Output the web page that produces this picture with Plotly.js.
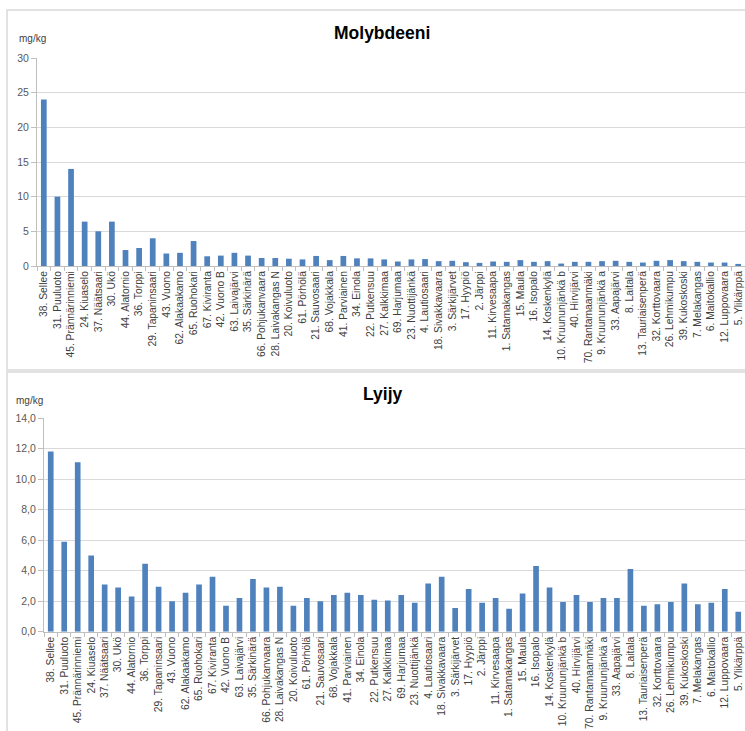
<!DOCTYPE html>
<html>
<head>
<meta charset="utf-8">
<script src="https://cdn.plot.ly/plotly-3.0.1.min.js"></script>
<style>
  html, body { margin: 0; padding: 0; background: #ffffff; }
  #chart { width: 745px; height: 731px; }
</style>
</head>
<body>
<div id="chart"></div>
<script>
// Sampling sites, in the order shown on both charts
const sites = [
  "38. Sellee", "31. Puuluoto", "45. Prännärinniemi", "24. Kiuaselo", "37. Näätsaari",
  "30. Ukö", "44. Alatornio", "36. Torppi", "29. Tapaninsaari", "43. Vuono",
  "62. Alakaakamo", "65. Ruohokari", "67. Kiviranta", "42. Vuono B", "63. Laivajärvi",
  "35. Särkinärä", "66. Pohjukanvaara", "28. Laivakangas N", "20. Koivuluoto", "61. Pörhölä",
  "21. Sauvosaari", "68. Vojakkala", "41. Parviainen", "34. Einola", "22. Putkensuu",
  "27. Kalkkimaa", "69. Harjumaa", "23. Nuottijänkä", "4. Lautiosaari", "18. Sivakkavaara",
  "3. Särkijärvet", "17. Hyypiö", "2. Järppi", "11. Kirvesaapa", "1. Satamakangas",
  "15. Maula", "16. Isopalo", "14. Koskenkylä", "10. Kruununjänkä b", "40. Hirvijärvi",
  "70. Rantamaanmäki", "9. Kruununjänkä a", "33. Aapajärvi", "8. Laitala", "13. Tauriaisenperä",
  "32. Korttovaara", "26. Lehmikumpu", "39. Kukoskoski", "7. Melakangas", "6. Maitokallio",
  "12. Luppovaara", "5. Ylikärppä"
];

// Molybdenum, mg/kg
const molybdenum = [
  24.0, 10.0, 14.0, 6.4, 5.0,
  6.4, 2.3, 2.6, 4.0, 1.8,
  1.9, 3.6, 1.4, 1.5, 1.9,
  1.5, 1.15, 1.15, 1.05, 0.95,
  1.45, 0.85, 1.45, 1.1, 1.1,
  0.95, 0.65, 0.95, 1.0, 0.7,
  0.75, 0.55, 0.45, 0.65, 0.6,
  0.85, 0.6, 0.7, 0.35, 0.6,
  0.6, 0.7, 0.75, 0.6, 0.5,
  0.75, 0.85, 0.7, 0.6, 0.5,
  0.5, 0.3
];

// Lead, mg/kg
const lead = [
  11.8, 5.9, 11.1, 5.0, 3.1,
  2.9, 2.3, 4.45, 2.95, 2.0,
  2.55, 3.1, 3.6, 1.7, 2.2,
  3.45, 2.9, 2.95, 1.7, 2.2,
  2.0, 2.4, 2.55, 2.4, 2.1,
  2.05, 2.4, 1.9, 3.15, 3.6,
  1.55, 2.8, 1.9, 2.2, 1.5,
  2.5, 4.3, 2.9, 1.95, 2.4,
  1.95, 2.2, 2.2, 4.1, 1.7,
  1.8, 1.95, 3.15, 1.8, 1.9,
  2.8, 1.3
];

const W = 745, H = 731;
const px = v => v / W;          // horizontal pixel -> paper fraction
const py = v => 1 - v / H;      // vertical pixel -> paper fraction

const barColor = "#4f81bd";
const gridColor = "#d9d9d9";
const axisColor = "#bfbfbf";
const textColor = "#404040";
const fontFamily = "Liberation Sans, Arial, sans-serif";

const traces = [
  { type: "bar", x: sites, y: molybdenum, xaxis: "x", yaxis: "y",
    marker: { color: barColor }, hoverinfo: "x+y" },
  { type: "bar", x: sites, y: lead, xaxis: "x2", yaxis: "y2",
    marker: { color: barColor }, hoverinfo: "x+y" }
];

const catAxis = {
  type: "category",
  tickangle: -90,
  tickfont: { size: 10.3, color: textColor, family: fontFamily },
  ticks: "outside", tickson: "boundaries", ticklen: 4, tickcolor: axisColor,
  showline: true, linecolor: axisColor, linewidth: 1,
  showgrid: false, zeroline: false, fixedrange: true
};

const valAxis = {
  showgrid: true, gridcolor: gridColor, gridwidth: 1,
  showline: true, linecolor: axisColor, linewidth: 1,
  ticks: "outside", ticklen: 5, tickcolor: axisColor,
  tickfont: { size: 10.5, color: "#595959", family: fontFamily },
  zeroline: false, fixedrange: true
};

const layout = {
  width: W, height: H,
  margin: { l: 0, r: 0, t: 0, b: 0 },
  paper_bgcolor: "#ffffff", plot_bgcolor: "#ffffff",
  showlegend: false,
  separators: ", ",
  bargap: 0.58,
  font: { family: fontFamily, color: textColor },
  xaxis: Object.assign({}, catAxis, { domain: [px(37), px(745)], anchor: "y" }),
  yaxis: Object.assign({}, valAxis, { domain: [py(266), py(58)], anchor: "x",
    range: [0, 30], dtick: 5, tick0: 0 }),
  xaxis2: Object.assign({}, catAxis, { domain: [px(44), px(745)], anchor: "y2" }),
  yaxis2: Object.assign({}, valAxis, { domain: [py(631.7), py(418)], anchor: "x2",
    range: [0, 14], dtick: 2, tick0: 0, tickformat: ".1f" }),
  shapes: [
    { type: "rect", xref: "paper", yref: "paper",
      x0: px(7), x1: px(760), y0: py(370), y1: py(10),
      line: { color: "#d9d9d9", width: 1.5 }, fillcolor: "rgba(0,0,0,0)", layer: "below" },
    { type: "rect", xref: "paper", yref: "paper",
      x0: px(7), x1: px(760), y0: py(745), y1: py(372),
      line: { color: "#d9d9d9", width: 1.5 }, fillcolor: "rgba(0,0,0,0)", layer: "below" }
  ],
  annotations: [
    { text: "<b>Molybdeeni</b>", xref: "paper", yref: "paper", x: px(382), y: py(33),
      xanchor: "center", yanchor: "middle", showarrow: false,
      font: { size: 17.5, color: "#000000", family: fontFamily } },
    { text: "mg/kg", xref: "paper", yref: "paper", x: px(17), y: py(39),
      xanchor: "left", yanchor: "middle", showarrow: false,
      font: { size: 10, color: textColor, family: fontFamily } },
    { text: "<b>Lyijy</b>", xref: "paper", yref: "paper", x: px(382), y: py(394),
      xanchor: "center", yanchor: "middle", showarrow: false,
      font: { size: 17.5, color: "#000000", family: fontFamily } },
    { text: "mg/kg", xref: "paper", yref: "paper", x: px(14), y: py(400),
      xanchor: "left", yanchor: "middle", showarrow: false,
      font: { size: 10, color: textColor, family: fontFamily } }
  ]
};

Plotly.newPlot("chart", traces, layout, { displayModeBar: false, staticPlot: true });
</script>
</body>
</html>
